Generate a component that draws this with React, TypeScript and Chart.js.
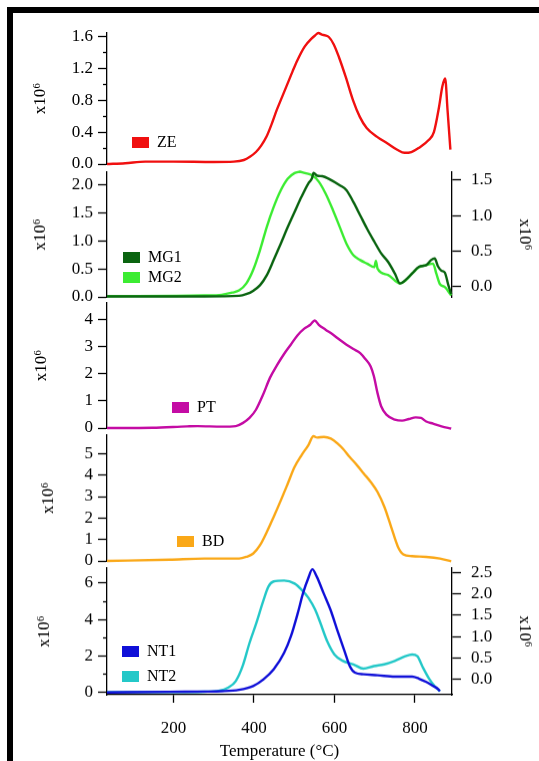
import React, { useEffect, useRef } from 'react';
import { Chart, registerables } from 'chart.js';

Chart.register(...registerables);

const FONT = '"Liberation Serif", "Times New Roman", serif';
const X_MIN = 35;
const X_MAX = 892;
const X_STEP = 200;
const X_TITLE = 'Temperature (°C)';
const Y_TITLE = 'x10⁶';

// ---- data (temperature °C, intensity x10^6) ----
const ZE_T = [35, 80, 130, 200, 300, 350, 375, 390, 405, 418, 431, 444, 457, 470, 483, 496, 508, 526, 543, 552, 560, 569, 577, 586, 598, 611, 628, 646, 663, 680, 706, 731, 757, 774, 791, 809, 834, 847, 860, 868, 875, 881, 888];
const ZE_V = [0, 0.01, 0.03, 0.03, 0.025, 0.03, 0.05, 0.09, 0.15, 0.23, 0.34, 0.5, 0.68, 0.84, 1.0, 1.16, 1.3, 1.47, 1.57, 1.61, 1.64, 1.62, 1.61, 1.59, 1.5, 1.34, 1.09, 0.8, 0.59, 0.45, 0.34, 0.26, 0.175, 0.14, 0.15, 0.2, 0.3, 0.4, 0.72, 0.97, 1.07, 0.67, 0.18];

const MG1_T = [35, 277, 363, 381, 398, 415, 432, 449, 467, 484, 501, 518, 535, 544, 548, 557, 570, 587, 613, 630, 647, 664, 681, 699, 716, 733, 750, 763, 776, 793, 810, 828, 840, 849, 857, 866, 874, 883, 890];
const MG1_V = [0.01, 0.01, 0.02, 0.05, 0.11, 0.21, 0.39, 0.66, 0.96, 1.25, 1.52, 1.79, 2.03, 2.12, 2.22, 2.17, 2.16, 2.11, 2.0, 1.91, 1.7, 1.46, 1.22, 0.99, 0.78, 0.63, 0.42, 0.24, 0.3, 0.42, 0.54, 0.57, 0.66, 0.69, 0.55, 0.47, 0.44, 0.21, 0.05];

const MG2_T = [35, 277, 320, 346, 363, 381, 398, 415, 432, 449, 467, 484, 501, 514, 527, 544, 561, 578, 596, 613, 630, 647, 664, 681, 699, 703, 707, 733, 763, 776, 793, 810, 828, 845, 853, 862, 874, 890];
const MG2_V = [-0.14, -0.13, -0.12, -0.09, -0.06, 0.04, 0.23, 0.51, 0.84, 1.12, 1.36, 1.52, 1.6, 1.62, 1.6, 1.57, 1.48, 1.31, 1.08, 0.84, 0.6, 0.44, 0.37, 0.32, 0.27, 0.36, 0.25, 0.16, 0.04, 0.08, 0.18, 0.27, 0.3, 0.32, 0.18, 0.03, -0.01, -0.13];

const PT_T = [35, 148, 234, 260, 320, 355, 372, 389, 405, 422, 440, 457, 474, 491, 508, 525, 540, 551, 561, 578, 596, 613, 630, 647, 664, 677, 690, 698, 707, 716, 729, 750, 768, 785, 802, 815, 828, 845, 866, 890];
const PT_V = [0, 0.01, 0.06, 0.07, 0.05, 0.07, 0.18, 0.37, 0.67, 1.2, 1.85, 2.3, 2.7, 3.05, 3.4, 3.65, 3.79, 3.95, 3.79, 3.61, 3.43, 3.24, 3.06, 2.9, 2.75, 2.53, 2.26, 1.9, 1.28, 0.8, 0.49, 0.31, 0.27, 0.33, 0.39, 0.37, 0.24, 0.16, 0.06, -0.02];

const BD_T = [35, 191, 277, 363, 381, 398, 415, 432, 449, 467, 484, 501, 518, 535, 548, 557, 574, 591, 608, 621, 638, 656, 673, 690, 707, 724, 741, 758, 771, 793, 828, 862, 890];
const BD_V = [0, 0.06, 0.11, 0.11, 0.19, 0.34, 0.73, 1.35, 2.05, 2.83, 3.6, 4.38, 4.92, 5.39, 5.81, 5.75, 5.78, 5.7, 5.47, 5.23, 4.84, 4.46, 4.07, 3.68, 3.21, 2.52, 1.58, 0.65, 0.31, 0.22, 0.19, 0.11, -0.02];

const NT1_T = [35, 191, 277, 320, 363, 398, 424, 449, 475, 492, 509, 522, 535, 545, 556, 573, 590, 608, 625, 638, 651, 672, 707, 750, 793, 810, 828, 845, 858, 862];
const NT1_V = [0, 0.04, 0.05, 0.07, 0.15, 0.36, 0.73, 1.27, 2.18, 3.09, 4.36, 5.45, 6.27, 6.76, 6.36, 5.45, 4.55, 3.36, 2.27, 1.45, 1.09, 1.0, 0.95, 0.87, 0.87, 0.76, 0.58, 0.36, 0.18, 0.07];

const NT2_T = [35, 191, 277, 312, 337, 355, 372, 389, 406, 424, 436, 449, 475, 501, 518, 535, 552, 565, 582, 600, 621, 647, 672, 698, 724, 750, 776, 793, 806, 818, 836, 849, 862];
const NT2_V = [-0.3, -0.3, -0.29, -0.27, -0.19, -0.04, 0.31, 0.85, 1.32, 1.86, 2.17, 2.29, 2.31, 2.24, 2.1, 1.91, 1.63, 1.32, 0.89, 0.58, 0.43, 0.35, 0.25, 0.31, 0.35, 0.43, 0.54, 0.58, 0.54, 0.31, 0.0, -0.16, -0.28];

// ---- layout / style ----
const W = 539;
const H = 761;
const PLOT_LEFT = 107;
const PLOT_RIGHT = 452;
const PAD_T = 22;
const PAD_B = 14;
const X_AXIS_H = 66;

type Series = { label: string; color: string; t: number[]; v: number[]; axis: 'y' | 'y2' };
type AxisCfg = { min: number; max: number; step: number; every: number; digits: number; titlePad: number };
type Panel = {
  chartTop: number; chartBottom: number;
  left: AxisCfg; right?: AxisCfg; series: Series[]; xAxis: boolean;
  legend: { x: number; y: number }[];
};

const PANELS: Panel[] = [
  {
    chartTop: 33, chartBottom: 164, xAxis: false,
    left: { min: 0, max: 1.64, step: 0.2, every: 0.4, digits: 1, titlePad: 30 },
    series: [{ label: 'ZE', color: 'rgb(240,16,16)', t: ZE_T, v: ZE_V, axis: 'y' }],
    legend: [{ x: 132, y: 142 }],
  },
  {
    chartTop: 172, chartBottom: 296.7, xAxis: false,
    left: { min: 0, max: 2.233, step: 0.5, every: 0.5, digits: 1, titlePad: 30 },
    right: { min: -0.151, max: 1.613, step: 0.5, every: 0.5, digits: 1, titlePad: 4 },
    series: [
      { label: 'MG1', color: 'rgb(10,100,16)', t: MG1_T, v: MG1_V, axis: 'y' },
      { label: 'MG2', color: 'rgb(60,236,50)', t: MG2_T, v: MG2_V, axis: 'y2' },
    ],
    legend: [{ x: 123, y: 257 }, { x: 123, y: 277 }],
  },
  {
    chartTop: 303.3, chartBottom: 428.3, xAxis: false,
    left: { min: 0, max: 4.59, step: 1, every: 1, digits: 0, titlePad: 31 },
    series: [{ label: 'PT', color: 'rgb(196,12,164)', t: PT_T, v: PT_V, axis: 'y' }],
    legend: [{ x: 172, y: 407 }],
  },
  {
    chartTop: 435, chartBottom: 560.7, xAxis: false,
    left: { min: 0, max: 5.86, step: 1, every: 1, digits: 0, titlePad: 38 },
    series: [{ label: 'BD', color: 'rgb(250,168,24)', t: BD_T, v: BD_V, axis: 'y' }],
    legend: [{ x: 177, y: 541 }],
  },
  {
    chartTop: 568.3, chartBottom: H - X_AXIS_H, xAxis: true,
    left: { min: -0.12, max: 6.82, step: 1, every: 2, digits: 0, titlePad: 34 },
    right: { min: -0.361, max: 2.602, step: 0.5, every: 0.5, digits: 1, titlePad: 4 },
    series: [
      { label: 'NT1', color: 'rgb(16,16,216)', t: NT1_T, v: NT1_V, axis: 'y' },
      { label: 'NT2', color: 'rgb(36,200,200)', t: NT2_T, v: NT2_V, axis: 'y2' },
    ],
    legend: [{ x: 122, y: 651 }, { x: 122, y: 676 }],
  },
];

const isMajor = (v: number, every: number) => Math.abs(v / every - Math.round(v / every)) < 1e-6;

function yAxis(cfg: AxisCfg, position: 'left' | 'right') {
  const left = position === 'left';
  return {
    type: 'linear',
    position,
    min: cfg.min,
    max: cfg.max,
    afterFit: (s: any) => {
      s.width = left ? PLOT_LEFT : W - PLOT_RIGHT;
      s.paddingTop = 0;
      s.paddingBottom = 0;
    },
    border: { display: true, color: '#000', width: 1.3 },
    grid: {
      display: true,
      drawOnChartArea: false,
      drawTicks: true,
      tickLength: 9,
      tickColor: '#000',
      tickWidth: 1.3,
      tickBorderDash: (c: any) => (c.tick && !isMajor(c.tick.value, cfg.every) ? [5, 5] : []),
      tickBorderDashOffset: (c: any) => (c.tick && !isMajor(c.tick.value, cfg.every) && left ? 5 : 0),
    },
    ticks: {
      stepSize: cfg.step,
      includeBounds: false,
      autoSkip: false,
      maxRotation: 0,
      padding: left ? 5 : 10,
      color: '#000',
      font: { family: FONT, size: 17 },
      callback: (v: any) => (isMajor(Number(v), cfg.every) ? Number(v).toFixed(cfg.digits) : ''),
    },
    title: {
      display: true,
      text: Y_TITLE,
      color: '#000',
      font: { family: FONT, size: 17 },
      padding: { top: cfg.titlePad, bottom: 0 },
    },
  };
}

function canvasBox(p: Panel) {
  const top = p.chartTop - PAD_T;
  const bottom = p.xAxis ? H : p.chartBottom + PAD_B;
  return { top, height: bottom - top };
}

function makeChart(canvas: HTMLCanvasElement, p: Panel) {
  const scales: any = {
    x: {
      type: 'linear',
      position: 'bottom',
      min: X_MIN,
      max: X_MAX,
      display: p.xAxis,
      afterFit: (s: any) => {
        s.height = p.xAxis ? X_AXIS_H : 0;
        s.paddingLeft = 0;
        s.paddingRight = 0;
      },
      border: { display: true, color: '#000', width: 1.3 },
      grid: { display: true, drawOnChartArea: false, drawTicks: true, tickLength: 8, tickColor: '#000', tickWidth: 1.3 },
      ticks: {
        stepSize: X_STEP, includeBounds: false, autoSkip: false, maxRotation: 0, padding: 15,
        color: '#000', font: { family: FONT, size: 17 },
      },
      title: {
        display: true, text: X_TITLE, color: '#000',
        font: { family: FONT, size: 17, lineHeight: 1 }, padding: { top: 0, bottom: 1 },
      },
    },
    y: yAxis(p.left, 'left'),
  };
  if (p.right) scales.y2 = yAxis(p.right, 'right');

  return new Chart(canvas, {
    type: 'line',
    data: {
      datasets: p.series.map((s) => ({
        label: s.label,
        data: s.t.map((x, i) => ({ x, y: s.v[i] })),
        borderColor: s.color,
        backgroundColor: s.color,
        borderWidth: 2.4,
        pointRadius: 0,
        cubicInterpolationMode: 'monotone',
        fill: false,
        yAxisID: s.axis,
        clip: 6,
      })),
    },
    options: {
      responsive: false,
      animation: false,
      layout: {
        padding: {
          left: 0,
          right: p.right ? 0 : W - PLOT_RIGHT,
          top: PAD_T,
          bottom: p.xAxis ? 0 : PAD_B,
        },
      },
      plugins: { legend: { display: false }, tooltip: { enabled: false } },
      scales,
    } as any,
  });
}

export default function App() {
  const refs = useRef<(HTMLCanvasElement | null)[]>([]);

  useEffect(() => {
    const charts = PANELS.map((p, i) => makeChart(refs.current[i] as HTMLCanvasElement, p));
    return () => charts.forEach((c) => c.destroy());
  }, []);

  return (
    <div style={{ position: 'absolute', left: 0, top: 0, width: W, height: H, background: '#fff', overflow: 'hidden' }}>
      <div style={{ position: 'absolute', left: 7, top: 7, width: W - 7, height: H - 7, borderTop: '6px solid #000', borderLeft: '6px solid #000', boxSizing: 'border-box' }} />
      {PANELS.map((p, i) => {
        const b = canvasBox(p);
        return (
          <canvas
            key={i}
            ref={(el) => { refs.current[i] = el; }}
            width={W}
            height={b.height}
            style={{ position: 'absolute', left: 0, top: b.top, width: W, height: b.height }}
          />
        );
      })}
      {PANELS.map((p) =>
        p.series.map((s, j) => (
          <div
            key={s.label}
            style={{ position: 'absolute', left: p.legend[j].x, top: p.legend[j].y - 10, height: 20, display: 'flex', alignItems: 'center', fontFamily: FONT, fontSize: 16, color: '#000', whiteSpace: 'nowrap' }}
          >
            <span style={{ display: 'inline-block', width: 17, height: 11, background: s.color, marginRight: 8 }} />
            <span>{s.label}</span>
          </div>
        ))
      )}
    </div>
  );
}
